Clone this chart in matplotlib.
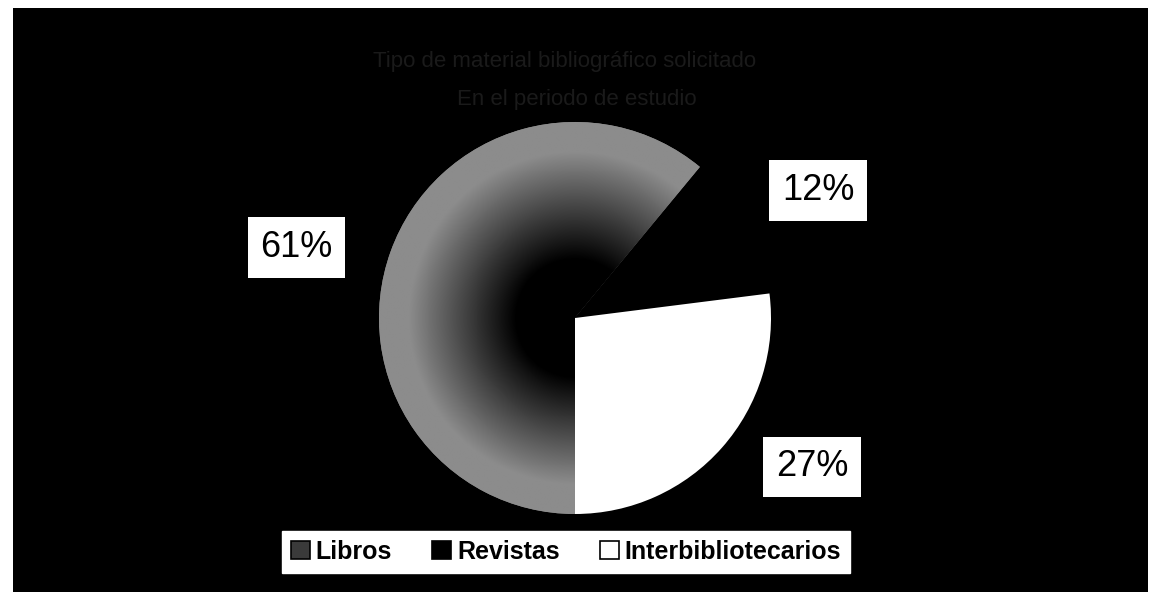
import numpy as np
import matplotlib.pyplot as plt
from matplotlib.patches import Rectangle

plt.rcParams['font.family'] = ['Liberation Sans', 'DejaVu Sans']

# data
categories = ["Libros", "Revistas", "Interbibliotecarios"]
shares = [61, 12, 27]
colors = ["#858585", "#000000", "#ffffff"]
title_lines = ["Tipo de material bibliográfico solicitado",
               "En el periodo de estudio"]
# where each percentage box sits, in pie-radius units
label_pos = [(-1.42, 0.36), (1.24, 0.65), (1.21, -0.76)]

fig = plt.figure(figsize=(11.53, 6.0), dpi=100, facecolor="white")
W, H = 1153, 600

# black plate of the scanned page
fig.patches.append(Rectangle((13 / W, 8 / H), (1148 - 13) / W, (592 - 8) / H,
                             transform=fig.transFigure, facecolor="black",
                             edgecolor="none", zorder=-5))

cx, cy, r = 575, 318, 196
ax = fig.add_axes([(cx - r) / W, (H - cy - r) / H, 2 * r / W, 2 * r / H])
ax.set_facecolor("none")
ax.set_zorder(2)

wedges, _ = ax.pie(shares, colors=colors, startangle=-90, counterclock=False,
                   wedgeprops=dict(linewidth=0))

# darker towards the centre, like the scanned gray slice
xx, yy = np.meshgrid(np.linspace(-1, 1, 400), np.linspace(-1, 1, 400))
rr = np.hypot(xx, yy)
shade = np.clip((rr - 0.3) / 0.55, 0, 1) * 0.55
img = ax.imshow(shade, cmap="gray", vmin=0, vmax=1, extent=(-1, 1, -1, 1),
                origin="lower", zorder=3)
img.set_clip_path(wedges[0])
ax.set_xlim(-1, 1)
ax.set_ylim(-1, 1)
ax.axis("off")

for (lx, ly), v in zip(label_pos, shares):
    ax.text(lx, ly, f"{v}%", fontsize=26, color="black", ha="center",
            va="center", clip_on=False, zorder=5,
            bbox=dict(boxstyle="square,pad=0.35", facecolor="white",
                      edgecolor="none"))

fig.text(0.49, 1 - 62 / H, title_lines[0], fontsize=16, color="#1a1a1a",
         ha="center", va="center")
fig.text(0.5, 1 - 100 / H, title_lines[1], fontsize=16, color="#1a1a1a",
         ha="center", va="center")

handles = [Rectangle((0, 0), 1, 1, facecolor="#3a3a3a", edgecolor="black",
                     linewidth=1.2)]
for c in colors[1:]:
    handles.append(Rectangle((0, 0), 1, 1, facecolor=c, edgecolor="black",
                             linewidth=1.2))
leg = fig.legend(handles, categories, loc="center", ncol=3,
                 bbox_to_anchor=(566 / W, 1 - 552 / H), frameon=True,
                 fancybox=False, framealpha=1, edgecolor="white",
                 facecolor="white", handlelength=0.75, handleheight=0.75,
                 handletextpad=0.25, columnspacing=1.6, borderpad=0.35,
                 borderaxespad=0, prop=dict(size=18, weight="bold"))

fig.savefig("out.png", dpi=100, facecolor="white")
